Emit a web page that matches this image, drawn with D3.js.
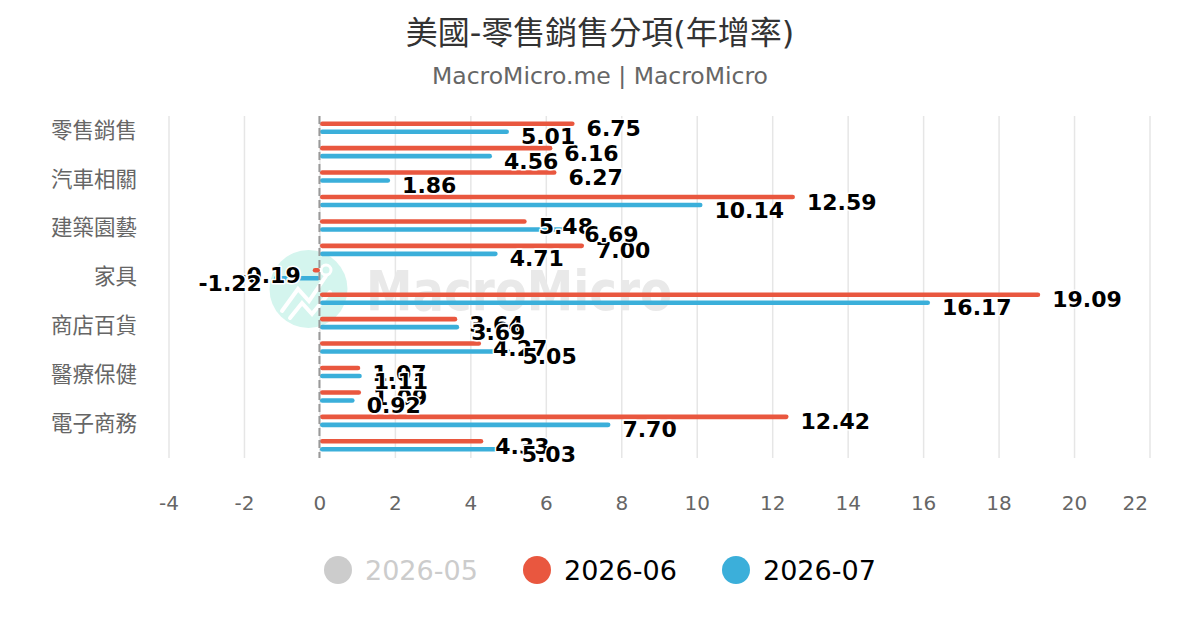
<!DOCTYPE html>
<html>
<head>
<meta charset="utf-8">
<script src="https://cdn.jsdelivr.net/npm/d3@7"></script>
<style>
  body { margin: 0; background: #fff; }
  svg { display: block; font-family: "DejaVu Sans", "Noto Sans CJK TC", sans-serif; }
</style>
</head>
<body>
<svg id="chart" width="1200" height="630"></svg>
<script>
// categories (only every other label is shown on the axis)
const categories = [
  '零售銷售', '零售銷售(除汽車)', '汽車相關', '加油站', '建築園藝', '食品飲料', '家具',
  '服飾', '商店百貨', '電子電器', '醫療保健', '運動休閒', '電子商務', '餐飲服務',
];
const seriesNames = ['2026-05', '2026-06', '2026-07'];
const hiddenSeries = ['2026-05'];
const seriesColors = ['#cccccc', '#e9573f', '#3bafda'];

const values0626 = [6.75, 6.16, 6.27, 12.59, 5.48, 7.0, -0.19, 19.09, 3.64, 4.27, 1.07, 1.09, 12.42, 4.33];
const values0726 = [5.01, 4.56, 1.86, 10.14, 6.69, 4.71, -1.22, 16.17, 3.69, 5.05, 1.11, 0.92, 7.7, 5.03];
const xTicks = [-4, -2, 0, 2, 4, 6, 8, 10, 12, 14, 16, 18, 20, 22];

const visible = ['2026-06', '2026-07'];
const valuesBySeries = { '2026-06': values0626, '2026-07': values0726 };

const SVG = d3.select('#chart');
const TOP = 116, BOTTOM = 458, LEFT = 169, RIGHT = 1150;

const x = d3.scaleLinear().domain([-4, 22]).range([LEFT, RIGHT]);
const y = d3.scaleBand().domain(categories).range([TOP, BOTTOM]);
const bw = y.bandwidth();
const inner = d3.scaleBand().domain(visible).range([bw / 2 - 8.5, bw / 2 + 7.5]);
const color = d3.scaleOrdinal().domain(seriesNames).range(seriesColors);
const BAR_H = 4.6;

// title
SVG.append('text')
  .attr('x', 600).attr('y', 44)
  .attr('text-anchor', 'middle')
  .style('font-size', '32px')
  .style('fill', '#333')
  .text('美國-零售銷售分項(年增率)');

SVG.append('text')
  .attr('x', 600).attr('y', 84)
  .attr('text-anchor', 'middle')
  .style('font-size', '23.5px')
  .style('fill', '#666')
  .text('MacroMicro.me | MacroMicro');

// grid
SVG.append('g')
  .selectAll('line')
  .data(xTicks)
  .join('line')
  .attr('x1', (d) => x(d)).attr('x2', (d) => x(d))
  .attr('y1', TOP).attr('y2', BOTTOM)
  .style('stroke', '#e6e6e6')
  .style('stroke-width', 1.5);

// watermark
const WM = SVG.append('g').attr('id', 'watermark');
WM.append('circle')
  .attr('cx', 308.5).attr('cy', 289).attr('r', 39)
  .style('fill', '#d4f5ee');
WM.append('path')
  .attr('d', 'M282,311 L298,289 L309,301 L326,276 M290,318 L302,303 L312,314 L330,292')
  .style('fill', 'none')
  .style('stroke', '#fff')
  .style('stroke-width', 4)
  .style('stroke-linecap', 'round');
WM.append('circle')
  .attr('cx', 326).attr('cy', 270).attr('r', 5)
  .style('fill', 'none').style('stroke', '#fff').style('stroke-width', 3);
WM.append('text')
  .attr('x', 366).attr('y', 310)
  .attr('textLength', 306)
  .attr('lengthAdjust', 'spacingAndGlyphs')
  .style('font-size', '56px')
  .style('font-weight', 'bold')
  .style('fill', '#e9e9e9')
  .text('MacroMicro');

// x axis labels
SVG.append('g')
  .selectAll('text')
  .data(xTicks)
  .join('text')
  .attr('x', (d, i) => (i === xTicks.length - 1 ? x(d) - 2 : x(d)))
  .attr('y', 510)
  .attr('text-anchor', (d, i) => (i === xTicks.length - 1 ? 'end' : 'middle'))
  .style('font-size', '20px')
  .style('fill', '#666')
  .text((d) => d);

// y axis labels, every other category
SVG.append('g')
  .selectAll('text')
  .data(categories.filter((d, i) => i % 2 === 0))
  .join('text')
  .attr('x', 137)
  .attr('y', (d) => y(d) + bw / 2 + 2)
  .attr('text-anchor', 'end')
  .attr('dominant-baseline', 'central')
  .style('font-size', '21.5px')
  .style('fill', '#666')
  .text((d) => d);

// bars
const points = [];
visible.forEach((s) => {
  valuesBySeries[s].forEach((v, i) => {
    points.push({ series: s, category: categories[i], value: v });
  });
});

SVG.append('g')
  .selectAll('rect')
  .data(points)
  .join('rect')
  .attr('x', (d) => Math.min(x(d.value), x(0)))
  .attr('width', (d) => Math.abs(x(d.value) - x(0)))
  .attr('y', (d) => y(d.category) + inner(d.series) + inner.bandwidth() / 2 - BAR_H / 2)
  .attr('height', BAR_H)
  .attr('rx', BAR_H / 2)
  .style('fill', (d) => color(d.series));

// zero line
SVG.append('line')
  .attr('x1', x(0) - 0.5).attr('x2', x(0) - 0.5)
  .attr('y1', TOP).attr('y2', BOTTOM)
  .style('stroke', '#999')
  .style('stroke-width', 2)
  .style('stroke-dasharray', '8,4');

// data labels
SVG.append('g')
  .selectAll('text')
  .data(points)
  .join('text')
  .attr('x', (d) => (d.value < 0 ? x(d.value) - 12 : x(d.value) + 12))
  .attr('y', (d) => y(d.category) + inner(d.series) + inner.bandwidth() / 2 + 5)
  .attr('text-anchor', (d) => (d.value < 0 ? 'end' : 'start'))
  .attr('dominant-baseline', 'central')
  .style('font-size', '22px')
  .style('font-weight', 'bold')
  .style('fill', '#000')
  .style('stroke', '#fff')
  .style('stroke-width', 3)
  .style('stroke-linejoin', 'round')
  .style('paint-order', 'stroke')
  .text((d) => d.value.toFixed(2));

// legend
const LEGEND_G = SVG.append('g').attr('transform', 'translate(0, 570)');
const legendX = [338, 537, 736];
seriesNames.forEach((s, i) => {
  const off = hiddenSeries.includes(s);
  LEGEND_G.append('circle')
    .attr('cx', legendX[i]).attr('cy', 0).attr('r', 14)
    .style('fill', off ? '#cccccc' : color(s));
  LEGEND_G.append('text')
    .attr('x', legendX[i] + 27).attr('y', 0)
    .attr('dominant-baseline', 'central')
    .style('font-size', '27px')
    .style('fill', off ? '#cccccc' : '#000')
    .text(s);
});
</script>
</body>
</html>
